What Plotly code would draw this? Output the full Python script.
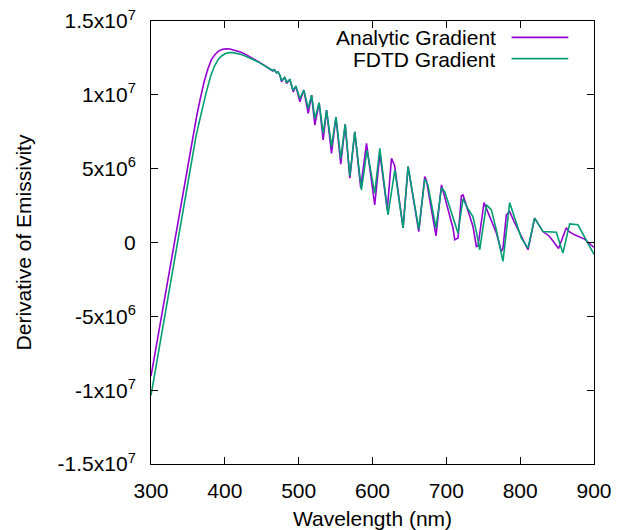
import plotly.graph_objects as go

# ---- data (wavelength in nm, derivative in units of 1e6) ----
analytic_x = [300, 310, 320, 330, 340, 350, 357, 362, 367, 372, 377, 382, 387, 392, 397, 402, 407, 412,
              417, 422, 427, 432, 437, 442, 447, 452, 457, 462, 465, 467, 470, 472, 474.6, 476.9, 481.3,
              483.6, 488.1, 492.6, 496.2, 501.6, 507.0, 512.9, 517.5, 521.9, 527.7, 533.2, 537.8, 544.5,
              550.5, 557, 563, 569.3, 576, 584, 591.9, 603, 610, 620, 625.7, 630, 641.4, 648.2, 662.7,
              670.8, 673, 686, 693.4, 709.1, 711.4, 715.8, 720.4, 722.6, 729.4, 736.1, 740.7, 743, 751,
              761, 767.8, 774.6, 776.7, 781.3, 785.8, 792, 799.3, 810.6, 819.6, 830.9, 839.9, 852,
              862.5, 866, 873.7, 887.3, 898.5, 900]
analytic_y = [-9.05, -6.16, -3.27, -0.38, 2.51, 5.4, 7.25, 8.6, 9.8, 10.9, 11.75, 12.4, 12.75, 12.98, 13.08,
              13.12, 13.1, 13.04, 12.97, 12.88, 12.77, 12.64, 12.5, 12.36, 12.2, 12.05, 11.9, 11.75, 11.62,
              11.7, 11.5, 11.55, 11.33, 10.88, 11.2, 10.77, 11.04, 10.2, 10.59, 9.53, 10.32, 8.74, 9.98,
              7.95, 9.46, 6.94, 8.97, 6.04, 8.5, 5.3, 8.0, 4.35, 7.5, 3.7, 6.72, 2.55, 6.04, 2.21, 5.7,
              5.2, 0.99, 5.14, 0.74, 4.46, 4.2, 0.45, 3.9, 0.97, 0.18, 0.3, 3.16, 3.22, 2.09, 1.08, -0.27,
              -0.22, 2.7, 1.53, 0.64, -0.61, -0.4, 1.87, 2.09, 1.4, 0.64, -0.49, 1.65, 0.74, 0.41, -0.4,
              1.0, 0.75, 0.52, 0.23, -0.27, -0.3]

fdtd_x = [300, 310, 320, 330, 340, 350, 361, 366, 371, 376, 381, 386, 391, 396, 401, 406, 411, 416, 421,
          426, 431, 436, 441, 446, 451, 456, 461, 465, 467, 470, 472, 474.6, 476.9, 481.3, 483.6, 488.1,
          492.6, 496.2, 501.6, 507.0, 512.9, 517.5, 521.9, 527.7, 533.2, 537.8, 544.5, 550.5, 557, 563,
          569.3, 576, 585, 592.5, 603, 609.9, 621, 630.2, 641.4, 648.2, 662.7, 670.8, 675, 686, 693.4,
          697.8, 715.8, 722.6, 729, 736, 740.7, 745.2, 754.3, 761, 767.8, 776.7, 785.8, 801.6, 810.6,
          819.6, 830.9, 849, 857.9, 867, 878.2, 898.5, 900]
fdtd_y = [-10.35, -7.45, -4.57, -1.68, 1.2, 4.1, 7.2, 8.3, 9.4, 10.4, 11.3, 11.95, 12.4, 12.65, 12.8,
          12.86, 12.86, 12.82, 12.75, 12.66, 12.56, 12.45, 12.33, 12.2, 12.06, 11.92, 11.78, 11.65, 11.7,
          11.5, 11.55, 11.33, 10.95, 11.2, 10.85, 11.04, 10.3, 10.59, 9.76, 10.32, 9.08, 9.98, 8.4, 9.46,
          7.39, 8.97, 6.49, 8.5, 5.7, 8.0, 4.5, 7.5, 3.56, 6.26, 3.34, 6.38, 1.87, 4.9, 0.99, 5.14, 0.9,
          4.3, 3.9, 0.97, 3.7, 3.45, 0.64, 2.95, 2.3, 1.76, 0.74, -0.49, 2.55, 2.21, 0.84, -1.28, 2.7,
          0.3, -0.38, 1.65, 0.74, 0.7, -0.72, 1.26, 1.2, -0.72, -0.8]

scale = 1e6
series_names = ["Analytic Gradient", "FDTD Gradient"]
series_colors = ["#9400D3", "#009E73"]

x_ticks = [300, 400, 500, 600, 700, 800, 900]
y_tickvals = [-1.5e7, -1e7, -5e6, 0, 5e6, 1e7, 1.5e7]
y_ticktext = ["-1.5x10<sup>7</sup>", "-1x10<sup>7</sup>", "-5x10<sup>6</sup>", "0",
              "5x10<sup>6</sup>", "1x10<sup>7</sup>", "1.5x10<sup>7</sup>"]

FONT = "Liberation Sans, Arial, Helvetica, sans-serif"

fig = go.Figure()
for name, xs, ys, col in [(series_names[0], analytic_x, analytic_y, series_colors[0]),
                          (series_names[1], fdtd_x, fdtd_y, series_colors[1])]:
    fig.add_trace(go.Scatter(x=xs, y=[v * scale for v in ys], mode="lines", name=name,
                             line=dict(color=col, width=1.6), showlegend=False))

# gnuplot-style key: right-aligned text, line sample to the right
legend_y = [0.9630, 0.9150]
for name, col, ly in zip(series_names, series_colors, legend_y):
    fig.add_annotation(x=0.780, y=ly, xref="paper", yref="paper", text=name, showarrow=False,
                       xanchor="right", yanchor="middle", height=20, borderpad=0,
                       font=dict(size=21, color="black", family=FONT))
    fig.add_shape(type="line", xref="paper", yref="paper", x0=0.814, x1=0.942, y0=ly, y1=ly,
                  line=dict(color=col, width=1.6))

axis_common = dict(showline=True, linecolor="black", linewidth=1, mirror="allticks", ticks="inside",
                   ticklen=7, tickcolor="black", showgrid=False, zeroline=False, automargin=False,
                   tickfont=dict(size=21, color="black", family=FONT))

fig.update_layout(
    width=627, height=530,
    margin=dict(l=151, r=33, t=21, b=66, autoexpand=False),
    plot_bgcolor="white", paper_bgcolor="white",
    font=dict(family=FONT, size=21, color="black"),
    xaxis=dict(range=[300, 900], tickvals=x_ticks, ticklabelstandoff=8,
               title=dict(text="Wavelength (nm)", standoff=15, font=dict(size=21)), **axis_common),
    yaxis=dict(range=[-1.5e7, 1.5e7], tickvals=y_tickvals, ticktext=y_ticktext, ticklabelstandoff=10,
               title=dict(text="Derivative of Emissivity", standoff=20, font=dict(size=21)), **axis_common),
)

fig.write_html("out.html")
